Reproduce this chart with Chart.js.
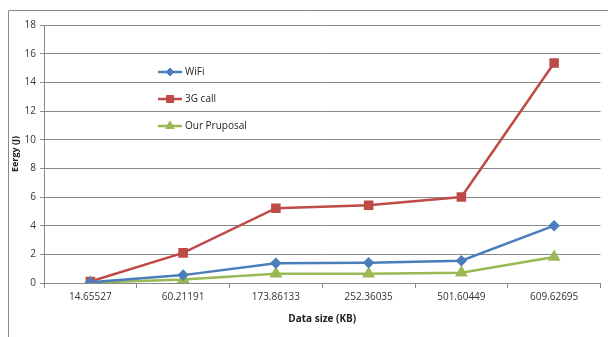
<!DOCTYPE html>
<html>
<head>
<meta charset="utf-8">
<script src="https://cdn.jsdelivr.net/npm/chart.js@4.4.1/dist/chart.umd.min.js"></script>
<style>
  html, body { margin: 0; padding: 0; background: #fff; }
  #wrap { width: 608px; height: 337px; position: relative; }
</style>
</head>
<body>
<div id="wrap"><canvas id="lineChart" width="608" height="337"></canvas></div>
<script>
// data
const dataSizes = ['14.65527', '60.21191', '173.86133', '252.36035', '501.60449', '609.62695'];
const wifi = [0.05, 0.55, 1.38, 1.42, 1.55, 4.0];
const call3g = [0.1, 2.1, 5.22, 5.42, 6.0, 15.35];
const proposal = [0.02, 0.25, 0.65, 0.65, 0.72, 1.82];
const yTicks = [0, 2, 4, 6, 8, 10, 12, 14, 16, 18];

const FONT = 'Open Sans, Liberation Sans, sans-serif';

// outer frame like the pasted figure
const framePlugin = {
    id: 'frame',
    beforeDraw(chart) {
        const ctx = chart.ctx;
        ctx.save();
        ctx.strokeStyle = '#8a8a8a';
        ctx.lineWidth = 1;
        ctx.beginPath();
        ctx.moveTo(8.5, 340);
        ctx.lineTo(8.5, 10.5);
        ctx.lineTo(610, 10.5);
        ctx.stroke();
        ctx.restore();
    }
};

// legend sitting inside the plot
const insideLegend = {
    id: 'insideLegend',
    afterDraw(chart) {
        const ctx = chart.ctx;
        const x0 = 158, x1 = 182;
        const rows = [72, 99, 126];
        ctx.save();
        chart.data.datasets.forEach((ds, i) => {
            const y = rows[i];
            ctx.strokeStyle = ds.borderColor;
            ctx.fillStyle = ds.borderColor;
            ctx.lineWidth = 2.5;
            ctx.beginPath();
            ctx.moveTo(x0, y);
            ctx.lineTo(x1, y);
            ctx.stroke();
            ctx.lineWidth = 1;
            Chart.helpers.drawPoint(ctx, {
                pointStyle: ds.pointStyle,
                radius: ds.pointRadius,
                borderWidth: 1
            }, (x0 + x1) / 2, y);
            ctx.fillStyle = '#222';
            ctx.font = '10px ' + FONT;
            ctx.textAlign = 'left';
            ctx.textBaseline = 'middle';
            ctx.fillText(ds.label, x1 + 3, y);
        });
        ctx.restore();
    }
};

function series(label, values, color, style, radius) {
    return {
        label: label,
        data: values,
        borderColor: color,
        backgroundColor: color,
        pointBackgroundColor: color,
        pointBorderColor: color,
        pointStyle: style,
        pointRadius: radius,
        borderWidth: 2.5,
        tension: 0
    };
}

const ctx = document.getElementById('lineChart').getContext('2d');
new Chart(ctx, {
    type: 'line',
    data: {
        labels: dataSizes,
        datasets: [
            series('WiFi', wifi, '#4a7ebb', 'rectRot', 4),
            series('3G call', call3g, '#be4b48', 'rect', 5),
            series('Our Pruposal', proposal, '#98b954', 'triangle', 5)
        ]
    },
    options: {
        responsive: false,
        animation: false,
        devicePixelRatio: 1,
        layout: { padding: { left: 8, top: 25, right: 4, bottom: 12 } },
        plugins: {
            legend: { display: false },
            tooltip: { enabled: false }
        },
        scales: {
            x: {
                offset: true,
                grid: {
                    offset: true,
                    drawOnChartArea: false,
                    drawTicks: true,
                    tickLength: 5,
                    color: '#8a8a8a'
                },
                border: { color: '#8a8a8a', width: 1 },
                ticks: {
                    color: '#333',
                    font: { family: FONT, size: 10 },
                    maxRotation: 0,
                    padding: 3
                },
                title: {
                    display: true,
                    text: 'Data size (KB)',
                    color: '#222',
                    font: { family: FONT, size: 10, weight: 'bold' },
                    padding: { top: 4, bottom: 0 }
                },
                afterFit(scale) { scale.height = 42; }
            },
            y: {
                min: 0,
                max: 18,
                afterBuildTicks(scale) {
                    scale.ticks = yTicks.map(v => ({ value: v }));
                },
                grid: {
                    color: '#8a8a8a',
                    tickLength: 4,
                    drawTicks: true
                },
                border: { color: '#8a8a8a', width: 1 },
                ticks: {
                    color: '#333',
                    font: { family: FONT, size: 10 },
                    padding: 4
                },
                title: {
                    display: true,
                    text: 'Eergy (J)',
                    color: '#222',
                    font: { family: FONT, size: 9, weight: 'bold' },
                    padding: { top: 2, bottom: 0 }
                },
                afterFit(scale) { scale.width = 36; }
            }
        }
    },
    plugins: [framePlugin, insideLegend]
});
</script>
</body>
</html>
